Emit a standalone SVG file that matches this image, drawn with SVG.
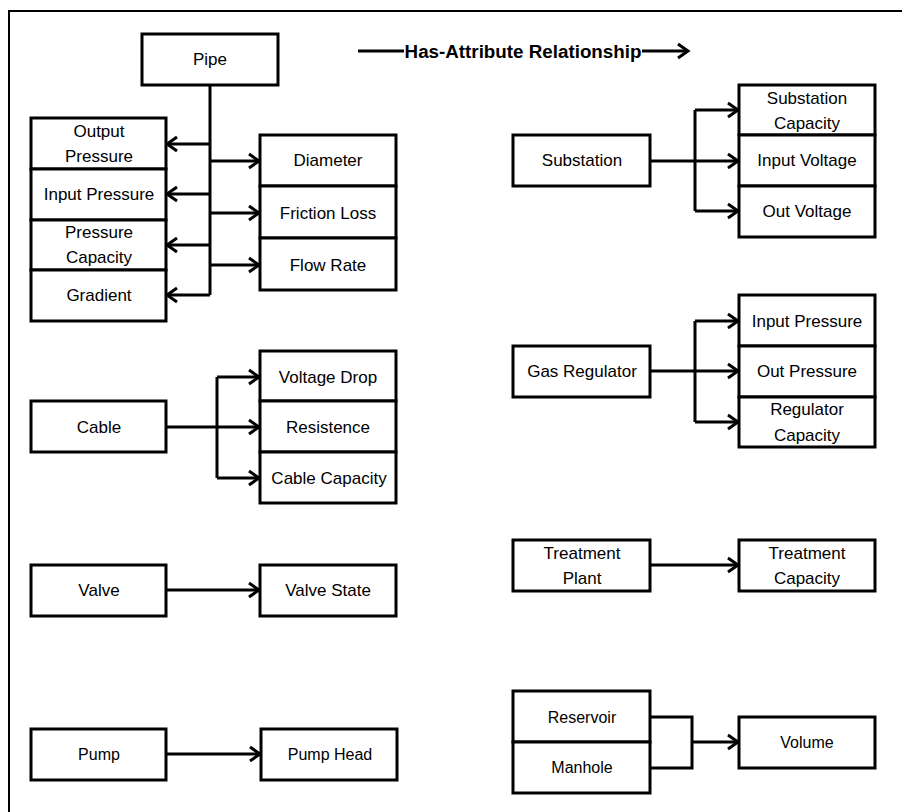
<svg xmlns="http://www.w3.org/2000/svg" width="902" height="812" viewBox="0 0 902 812">
<style>
.box{fill:#fff;stroke:#000;stroke-width:3}
.t{font-family:"Liberation Sans",Arial,sans-serif;font-size:17px;fill:#000;text-anchor:middle;dominant-baseline:central}
.s{font-size:16px}
.c{fill:none;stroke:#000;stroke-width:3}
.lg{font-family:"Liberation Sans",Arial,sans-serif;font-size:18.8px;font-weight:bold;fill:#000;dominant-baseline:central;text-anchor:middle}
</style>
<defs>
<marker id="ar" markerUnits="userSpaceOnUse" markerWidth="16" markerHeight="18" refX="11" refY="8" orient="auto" overflow="visible">
<path d="M1,1 L11,8 L1,15" fill="none" stroke="#000" stroke-width="3"/>
</marker>
</defs>
<rect width="902" height="812" fill="#fff"/>
<path d="M9,812 V11 H902" fill="none" stroke="#000" stroke-width="2"/>
<g id="legend">
<line x1="358" y1="51" x2="404" y2="51" class="c" stroke-width="2"/>
<text class="lg" x="523" y="51">Has-Attribute Relationship</text>
<line x1="642" y1="51" x2="688" y2="51" class="c" stroke-width="2" marker-end="url(#ar)"/>
</g>
<g id="connectors">
<path class="c" d="M210,85 V295"/>
<line class="c" x1="210" y1="144" x2="167" y2="144" marker-end="url(#ar)"/>
<line class="c" x1="210" y1="194" x2="167" y2="194" marker-end="url(#ar)"/>
<line class="c" x1="210" y1="245" x2="167" y2="245" marker-end="url(#ar)"/>
<line class="c" x1="210" y1="295" x2="167" y2="295" marker-end="url(#ar)"/>
<line class="c" x1="210" y1="161" x2="259" y2="161" marker-end="url(#ar)"/>
<line class="c" x1="210" y1="213" x2="259" y2="213" marker-end="url(#ar)"/>
<line class="c" x1="210" y1="265" x2="259" y2="265" marker-end="url(#ar)"/>
<path class="c" d="M166,427 H217 M217,377 V478"/>
<line class="c" x1="217" y1="377" x2="259" y2="377" marker-end="url(#ar)"/>
<line class="c" x1="217" y1="427" x2="259" y2="427" marker-end="url(#ar)"/>
<line class="c" x1="217" y1="478" x2="259" y2="478" marker-end="url(#ar)"/>
<line class="c" x1="166" y1="590" x2="259" y2="590" marker-end="url(#ar)"/>
<line class="c" x1="166" y1="754" x2="260" y2="754" marker-end="url(#ar)"/>
<path class="c" d="M650,161 H695 M695,110 V211"/>
<line class="c" x1="695" y1="110" x2="738" y2="110" marker-end="url(#ar)"/>
<line class="c" x1="695" y1="161" x2="738" y2="161" marker-end="url(#ar)"/>
<line class="c" x1="695" y1="211" x2="738" y2="211" marker-end="url(#ar)"/>
<path class="c" d="M650,371 H695 M695,321 V422"/>
<line class="c" x1="695" y1="321" x2="738" y2="321" marker-end="url(#ar)"/>
<line class="c" x1="695" y1="371" x2="738" y2="371" marker-end="url(#ar)"/>
<line class="c" x1="695" y1="422" x2="738" y2="422" marker-end="url(#ar)"/>
<line class="c" x1="650" y1="565" x2="738" y2="565" marker-end="url(#ar)"/>
<path class="c" d="M650,717 H692 V768 H650"/>
<line class="c" x1="692" y1="742" x2="738" y2="742" marker-end="url(#ar)"/>
</g>
<g id="pipe"><rect class="box" x="142" y="34" width="136" height="51"/><text class="t" x="210" y="59">Pipe</text></g>
<g id="output-pressure"><rect class="box" x="31" y="118" width="135" height="51"/><text class="t" x="99" y="131">Output</text><text class="t" x="99" y="156">Pressure</text></g>
<g id="input-pressure-pipe"><rect class="box" x="31" y="169" width="135" height="51"/><text class="t" x="99" y="194">Input Pressure</text></g>
<g id="pressure-capacity"><rect class="box" x="31" y="220" width="135" height="50"/><text class="t" x="99" y="232">Pressure</text><text class="t" x="99" y="257">Capacity</text></g>
<g id="gradient"><rect class="box" x="31" y="270" width="135" height="51"/><text class="t" x="99" y="295">Gradient</text></g>
<g id="diameter"><rect class="box" x="260" y="135" width="136" height="51"/><text class="t" x="328" y="160">Diameter</text></g>
<g id="friction-loss"><rect class="box" x="260" y="186" width="136" height="52"/><text class="t" x="328" y="213">Friction Loss</text></g>
<g id="flow-rate"><rect class="box" x="260" y="238" width="136" height="52"/><text class="t" x="328" y="265">Flow Rate</text></g>
<g id="cable"><rect class="box" x="31" y="401" width="135" height="51"/><text class="t" x="99" y="427">Cable</text></g>
<g id="voltage-drop"><rect class="box" x="260" y="351" width="136" height="50"/><text class="t" x="328" y="377">Voltage Drop</text></g>
<g id="resistence"><rect class="box" x="260" y="401" width="136" height="51"/><text class="t" x="328" y="427">Resistence</text></g>
<g id="cable-capacity"><rect class="box" x="260" y="452" width="136" height="51"/><text class="t" x="329" y="478">Cable Capacity</text></g>
<g id="valve"><rect class="box" x="31" y="565" width="135" height="51"/><text class="t" x="99" y="590">Valve</text></g>
<g id="valve-state"><rect class="box" x="260" y="565" width="136" height="51"/><text class="t" x="328" y="590">Valve State</text></g>
<g id="pump"><rect class="box" x="31" y="729" width="135" height="51"/><text class="t s" x="99" y="754">Pump</text></g>
<g id="pump-head"><rect class="box" x="261" y="729" width="136" height="51"/><text class="t s" x="330" y="754">Pump Head</text></g>
<g id="substation"><rect class="box" x="513" y="135" width="137" height="51"/><text class="t" x="582" y="160">Substation</text></g>
<g id="substation-capacity"><rect class="box" x="739" y="85" width="136" height="50"/><text class="t" x="807" y="98">Substation</text><text class="t" x="807" y="123">Capacity</text></g>
<g id="input-voltage"><rect class="box" x="739" y="135" width="136" height="51"/><text class="t" x="807" y="160">Input Voltage</text></g>
<g id="out-voltage"><rect class="box" x="739" y="186" width="136" height="51"/><text class="t" x="807" y="211">Out Voltage</text></g>
<g id="gas-regulator"><rect class="box" x="513" y="346" width="137" height="51"/><text class="t" x="582" y="371">Gas Regulator</text></g>
<g id="input-pressure-reg"><rect class="box" x="739" y="295" width="136" height="51"/><text class="t" x="807" y="321">Input Pressure</text></g>
<g id="out-pressure"><rect class="box" x="739" y="346" width="136" height="51"/><text class="t" x="807" y="371">Out Pressure</text></g>
<g id="regulator-capacity"><rect class="box" x="739" y="397" width="136" height="50"/><text class="t" x="807" y="409">Regulator</text><text class="t" x="807" y="435">Capacity</text></g>
<g id="treatment-plant"><rect class="box" x="513" y="540" width="137" height="51"/><text class="t" x="582" y="553">Treatment</text><text class="t" x="582" y="578">Plant</text></g>
<g id="treatment-capacity"><rect class="box" x="739" y="540" width="136" height="51"/><text class="t" x="807" y="553">Treatment</text><text class="t" x="807" y="578">Capacity</text></g>
<g id="reservoir"><rect class="box" x="513" y="691" width="137" height="51"/><text class="t s" x="582" y="717">Reservoir</text></g>
<g id="manhole"><rect class="box" x="513" y="742" width="137" height="51"/><text class="t s" x="582" y="767">Manhole</text></g>
<g id="volume"><rect class="box" x="739" y="717" width="136" height="51"/><text class="t s" x="807" y="742">Volume</text></g>
</svg>
